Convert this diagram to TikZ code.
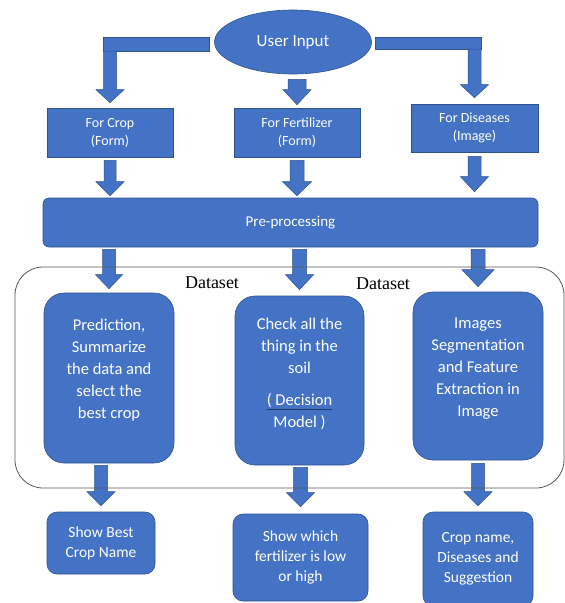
\documentclass[tikz,border=0pt]{standalone}
\usepackage{fontspec}
\setmainfont{Carlito}
\newfontfamily\dsfont{Liberation Serif}
\usetikzlibrary{calc,shapes.geometric}
\definecolor{boxblue}{HTML}{4472C4}
\definecolor{edgeblue}{HTML}{2F528F}
\definecolor{contgray}{HTML}{595959}
\definecolor{artblue}{HTML}{2E75D6}
\definecolor{ulblue}{HTML}{1F3864}
% vertical block arrow: start, tip, half shaft, half head, head length
\newcommand\bdown[5]{%
  \filldraw[arrowst] let \p1=(#1), \p2=(#2) in
   (\x2-#3,\y1) -- (\x2-#3,\y2+#5) -- (\x2-#4,\y2+#5) -- (\x2,\y2) --
   (\x2+#4,\y2+#5) -- (\x2+#3,\y2+#5) -- (\x2+#3,\y1) -- cycle;}
\tikzset{
  shapebase/.style={draw=edgeblue, fill=boxblue, line width=0.6pt, text=white, align=center, inner sep=0pt},
  arrowst/.style={draw=edgeblue, fill=boxblue, line width=0.5pt},
  topbox/.style={shapebase, font=\fontsize{14}{18}\selectfont},
  prebox/.style={shapebase, rounded corners=6pt, font=\fontsize{15}{18}\selectfont},
  midbox/.style={shapebase, rounded corners=20pt, font=\fontsize{16.5}{22}\selectfont},
  botbox/.style={shapebase, rounded corners=10pt, font=\fontsize{15.5}{20}\selectfont},
  dslabel/.style={font=\dsfont\fontsize{18}{20}\selectfont, inner sep=0pt},
  contbox/.style={draw=contgray, line width=0.8pt, rounded corners=28pt, inner sep=0pt},
}
\begin{document}
\begin{tikzpicture}[x=1pt, y=-1pt]
\useasboundingbox (0,0) rectangle (565,603);
\clip (0,0) rectangle (565,603);
\fill[white] (0,0) rectangle (565,603);

% top level
\node[ellipse, shapebase, minimum width=157pt, minimum height=64pt, font=\fontsize{17}{20}\selectfont] (ui) at (293,42) {User Input};
\node[topbox, minimum width=126pt, minimum height=49pt] (crop) at (110,132.5) {For Crop\\(Form)};
\node[topbox, minimum width=126pt, minimum height=49pt] (fert) at (297,132.5) {For Fertilizer\\(Form)};
\node[topbox, minimum width=127pt, minimum height=48pt] (dis) at (474.5,128) {For Diseases\\(Image)};
\node[text=artblue, font=\fontsize{16}{16}\selectfont, inner sep=0pt] (eqmark) at (148,127) {=};

\node[prebox, minimum width=495pt, minimum height=49pt] (pre) at (290.5,222.5) {Pre-processing};

% middle boxes
\node[midbox, minimum width=130pt, minimum height=170pt] (L) at (109,378) {Prediction,\\Summarize\\the data and\\select the\\best crop\\[-4pt]};
\node[midbox, minimum width=129pt, minimum height=169pt] (M) at (299.5,380.5) {Check all the\\thing in the\\soil\\[10pt]{\color{ulblue}\underline{\textcolor{white}{( Decision}}}\\Model )\\[-6pt]};
\node[midbox, minimum width=130pt, minimum height=168pt] (R) at (478,376) {Images\\Segmentation\\and Feature\\Extraction in\\Image\\[-4pt]};

\node[dslabel] (ds1) at (212,283) {Dataset};
\node[dslabel] (ds2) at (383,284) {Dataset};

% bottom boxes
\node[botbox, minimum width=108pt, minimum height=62pt] (SB) at (101,543) {Show Best\\Crop Name};
\node[botbox, minimum width=135pt, minimum height=87pt] (SW) at (300.5,557.5) {Show which\\fertilizer is low\\or high};
\node[botbox, minimum width=110pt, minimum height=94pt] (CN) at (478,559) {Crop name,\\Diseases and\\Suggestion};

% elbow arrows from User Input
\filldraw[arrowst] ($(ui.west)+(-5,-5)$) rectangle ($(ui.west -| crop.north)+(-6.5,9)$);
\bdown{$(ui.west -| crop.north)+(0,9)$}{$(crop.north)+(0,-5)$}{6.5}{14}{13}
\filldraw[arrowst] ($(ui.east)+(3,-5)$) rectangle ($(ui.east -| dis.north)+(6.5,7)$);
\bdown{$(ui.east -| dis.north)+(0,7)$}{$(dis.north)+(0,-6)$}{6.5}{14}{13}
\bdown{$(ui.south)+(0,5)$}{$(fert.north)+(0,-3)$}{9}{14}{15}

% to pre-processing
\bdown{$(crop.south)+(0,3)$}{$(pre.north -| crop.south)+(0,-2)$}{6}{14}{14}
\bdown{$(fert.south)+(0,3)$}{$(pre.north -| fert.south)+(0,-2)$}{7}{14.5}{14}
\bdown{$(dis.south)+(0,4)$}{$(pre.north -| dis.south)+(0,-6)$}{6.5}{14}{15}

% pre-processing to middle boxes
\bdown{$(pre.south -| L.north)+(0,2)$}{$(L.north)+(0,-4)$}{6.5}{13.5}{14}
\bdown{$(pre.south -| M.north)+(0,2)$}{$(M.north)+(0,-6)$}{7}{14}{15}
\bdown{$(pre.south -| R.north)+(0,2)$}{$(R.north)+(0,-5)$}{7}{16}{17}

% middle to bottom
\bdown{$(L.south -| SB.north)+(0,2)$}{$(SB.north)+(0,-6)$}{6.5}{14}{14}
\bdown{$(M.south -| SW.north)+(0,2)$}{$(SW.north)+(0,-7)$}{7}{14}{14}
\bdown{$(R.south -| CN.north)+(0,3)$}{$(CN.north)+(0,-6)$}{6.5}{14}{14}

% container
\node[contbox, minimum width=549pt, minimum height=221pt] (cont) at (289.5,377.5) {};
\end{tikzpicture}
\end{document}
